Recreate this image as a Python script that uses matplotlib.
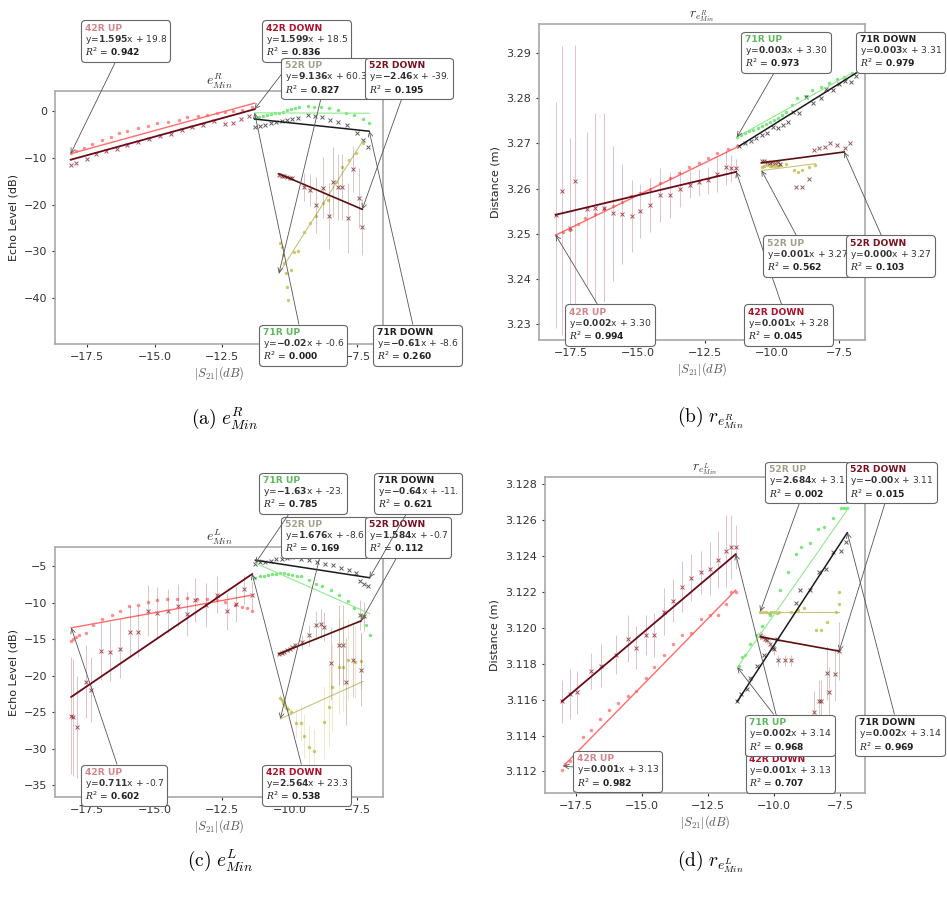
import numpy as np
import matplotlib.pyplot as plt
from matplotlib.offsetbox import TextArea, VPacker, AnnotationBbox

plt.rcParams['mathtext.fontset'] = 'custom'
plt.rcParams['mathtext.rm'] = 'DejaVu Sans'
plt.rcParams['mathtext.bf'] = 'DejaVu Sans:bold'
plt.rcParams['mathtext.it'] = 'DejaVu Serif:italic'

SERIES = ['42R UP', '42R DOWN', '52R UP', '52R DOWN', '71R UP', '71R DOWN']
XTICKS = [-17.5, -15.0, -12.5, -10.0, -7.5]

# ---------------- (a) e^R_Min ----------------
a42u_x = [-18.1, -17.9, -17.6, -17.3, -16.95, -16.6, -16.3, -16.0, -15.6, -15.25, -14.9,
          -14.5, -14.1, -13.8, -13.4, -13.05, -12.7, -12.4, -12.1, -11.75, -11.4]
a42u_y = [-9.0, -8.6, -7.8, -7.0, -6.2, -5.5, -4.7, -4.2, -3.6, -3.2, -2.6,
          -2.3, -1.8, -1.3, -1.1, -0.8, -0.4, -0.2, 0.0, 0.2, 0.8]
a42d_x = [-18.1, -17.9, -17.5, -17.15, -16.8, -16.4, -16.0, -15.6, -15.2, -14.8, -14.4,
          -14.0, -13.6, -13.2, -12.8, -12.4, -12.1, -11.8, -11.5]
a42d_y = [-11.6, -11.2, -10.3, -9.2, -8.6, -8.0, -7.2, -6.7, -6.0, -5.4, -4.8,
          -4.1, -3.5, -2.9, -2.2, -2.7, -2.5, -1.6, -1.0]
a52u_x = [-10.37, -10.3, -10.25, -10.2, -10.15, -10.1, -10.05, -9.95, -9.85, -9.7, -9.48,
          -9.26, -9.03, -8.77, -8.58, -8.3, -8.05, -7.8, -7.56, -7.3]
a52u_y = [-28.2, -29.0, -30.8, -32.5, -34.6, -37.6, -40.4, -34.0, -30.1, -30.0, -25.9,
          -24.0, -22.4, -19.7, -19.0, -15.2, -12.0, -10.5, -9.0, -6.8]
a52d_x = [-10.4, -10.3, -10.2, -10.1, -10.0, -9.9, -9.48, -9.26, -9.03, -8.77, -8.55,
          -8.4, -8.22, -8.07, -7.85, -7.66, -7.44, -7.32]
a52d_y = [-13.7, -13.8, -13.9, -14.0, -14.2, -14.4, -16.2, -16.9, -20.0, -16.4, -22.4,
          -15.2, -16.2, -16.2, -22.9, -12.4, -18.6, -24.8]
a52d_e = [0.3, 0.3, 0.3, 0.3, 0.3, 0.3, 3.0, 3.5, 6.0, 6.5, 7.0,
          7.5, 7.0, 7.0, 7.5, 5.0, 6.5, 6.0]
a71u_x = [-11.3, -11.15, -11.0, -10.85, -10.7, -10.55, -10.4, -10.25, -10.1, -9.95, -9.8,
          -9.65, -9.33, -9.1, -8.85, -8.55, -8.22, -7.92, -7.62, -7.29, -7.06]
a71u_y = [-1.5, -1.3, -1.1, -0.9, -0.7, -0.5, -0.3, -0.1, 0.15, 0.35, 0.6,
          0.85, 1.0, 0.85, 0.85, 0.6, 0.2, -0.4, -0.9, -1.7, -2.6]
a71d_x = [-11.3, -11.1, -10.9, -10.7, -10.5, -10.3, -10.1, -9.9, -9.7, -9.33, -9.05,
          -8.8, -8.5, -8.2, -7.9, -7.5, -7.3, -7.1]
a71d_y = [-3.4, -3.1, -2.9, -2.6, -2.4, -2.1, -1.9, -1.6, -1.4, -0.9, -1.1,
          -1.3, -1.9, -2.3, -3.0, -4.7, -6.2, -7.7]
a_fit_x = [[-18.1, -11.3], [-18.1, -11.3], [-10.4, -7.3], [-10.4, -7.32], [-11.3, -7.06], [-11.3, -7.06]]
a_fit_y = [[-9.1, 1.7], [-10.4, 0.4], [-34.7, -6.4], [-13.4, -21.0], [-0.37, -0.46], [-1.7, -4.3]]
a_slope = ['1.595', '1.599', '9.136', '-2.46', '-0.02', '-0.61']
a_icpt = ['19.8', '18.5', '60.3', '-39.', '-0.6', '-8.6']
a_r2 = ['0.942', '0.836', '0.827', '0.195', '0.000', '0.260']

# ---------------- (b) r_{e^R_Min} ----------------
b42u_x = [-18.06, -17.8, -17.52, -17.24, -16.96, -16.6, -16.27, -15.93, -15.59, -15.25, -14.91,
          -14.55, -14.16, -13.82, -13.48, -13.1, -12.73, -12.4, -12.05, -11.65, -11.3]
b42u_y = [3.2497, 3.2503, 3.2508, 3.2521, 3.2534, 3.2544, 3.2554, 3.2562, 3.2571, 3.2583, 3.2591,
          3.2600, 3.2612, 3.2624, 3.2635, 3.2647, 3.2657, 3.2667, 3.2678, 3.2687, 3.2694]
b42d_x = [-18.06, -17.82, -17.54, -17.33, -16.91, -16.58, -16.27, -15.94, -15.59, -15.22, -14.91,
          -14.54, -14.16, -13.79, -13.42, -13.05, -12.74, -12.4, -12.05, -11.73, -11.54, -11.35]
b42d_y = [3.2542, 3.2595, 3.2512, 3.2617, 3.2555, 3.2558, 3.2558, 3.2545, 3.2544, 3.2540, 3.2550,
          3.2564, 3.2586, 3.2586, 3.2600, 3.2609, 3.2614, 3.2618, 3.2632, 3.2647, 3.2645, 3.2646]
b42d_e = [0.025, 0.032, 0.020, 0.030, 0.017, 0.021, 0.021, 0.015, 0.011, 0.008, 0.006,
          0.006, 0.006, 0.005, 0.004, 0.003, 0.003, 0.003, 0.004, 0.004, 0.003, 0.002]
b52u_x = [-10.4, -10.3, -10.2, -10.1, -10.0, -9.9, -9.8, -9.7, -9.5, -9.2, -9.05, -8.9, -8.65, -8.4]
b52u_y = [3.2648, 3.2650, 3.2652, 3.2650, 3.2649, 3.2651, 3.2650, 3.2652, 3.2654, 3.2641, 3.2637,
          3.2641, 3.2648, 3.2652]
b52d_x = [-10.4, -10.3, -10.2, -10.1, -10.0, -9.9, -9.8, -9.7, -9.1, -8.9, -8.65, -8.45, -8.25,
          -8.05, -7.85, -7.6, -7.3, -7.1]
b52d_y = [3.2662, 3.2660, 3.2658, 3.2656, 3.2658, 3.2656, 3.2658, 3.2655, 3.2604, 3.2604, 3.2621,
          3.2685, 3.2690, 3.2692, 3.2701, 3.2696, 3.2690, 3.2700]
b71u_x = [-11.31, -11.15, -11.0, -10.85, -10.7, -10.55, -10.4, -10.25, -10.1, -9.95, -9.8,
          -9.65, -9.48, -9.26, -9.07, -8.74, -8.51, -8.17, -7.88, -7.58, -7.32, -7.02]
b71u_y = [3.2714, 3.2719, 3.2722, 3.2727, 3.2730, 3.2735, 3.2739, 3.2743, 3.2748, 3.2752, 3.2757,
          3.2762, 3.2770, 3.2785, 3.2800, 3.2804, 3.2818, 3.2825, 3.2834, 3.2842, 3.2847, 3.2856]
b71d_x = [-11.23, -11.0, -10.8, -10.6, -10.4, -10.2, -9.99, -9.8, -9.6, -9.4, -9.24, -9.0, -8.74,
          -8.5, -8.2, -8.0, -7.75, -7.5, -7.3, -7.06, -6.9]
b71d_y = [3.2694, 3.2700, 3.2706, 3.2712, 3.2718, 3.2723, 3.2737, 3.2733, 3.2740, 3.2748, 3.2770,
          3.2768, 3.2803, 3.2790, 3.2800, 3.2821, 3.2818, 3.2832, 3.2838, 3.2836, 3.2850]
b_fit_x = [[-18.06, -11.23], [-18.06, -11.34], [-10.4, -8.4], [-10.4, -7.32], [-11.31, -7.02], [-11.23, -6.87]]
b_fit_y = [[3.2497, 3.2694], [3.2542, 3.2637], [3.2640, 3.2655], [3.2657, 3.2681], [3.2714, 3.2856], [3.2694, 3.2856]]
b_slope = ['0.002', '0.001', '0.001', '0.000', '0.003', '0.003']
b_icpt = ['3.30', '3.28', '3.27', '3.27', '3.30', '3.31']
b_r2 = ['0.994', '0.045', '0.562', '0.103', '0.973', '0.979']

# ---------------- (c) e^L_Min ----------------
c42u_x = [-18.1, -18.0, -17.9, -17.8, -17.52, -17.27, -16.96, -16.59, -16.28, -15.95, -15.6,
          -15.23, -14.92, -14.55, -14.18, -13.8, -13.43, -13.06, -12.69, -12.38, -12.01, -11.76,
          -11.57, -11.39]
c42u_y = [-15.3, -15.0, -14.7, -14.4, -14.1, -13.1, -12.3, -11.7, -11.1, -10.5, -10.3,
          -9.9, -9.7, -9.45, -9.45, -9.35, -9.45, -9.5, -9.7, -9.9, -10.3, -10.6,
          -10.8, -11.2]
c42d_x = [-18.1, -18.0, -17.85, -17.52, -17.35, -16.97, -16.66, -16.28, -15.91, -15.6, -15.23,
          -14.92, -14.49, -14.12, -13.81, -13.5, -13.1, -12.69, -12.32, -12.0, -11.7, -11.4]
c42d_y = [-25.5, -25.7, -27.0, -20.8, -21.9, -16.6, -16.7, -16.3, -14.0, -14.0, -11.1,
          -11.4, -11.1, -10.4, -11.6, -9.6, -10.3, -8.9, -11.2, -10.2, -8.2, -9.0]
c42d_e = [8.0, 8.0, 7.0, 5.0, 4.5, 4.0, 4.0, 4.0, 3.5, 3.5, 3.5,
          3.5, 3.0, 3.0, 3.0, 3.0, 3.0, 2.5, 2.5, 2.5, 2.0, 2.0]
c52u_x = [-10.35, -10.3, -10.25, -10.2, -10.15, -10.05, -9.95, -9.78, -9.6, -9.47, -9.28,
          -9.1, -8.72, -8.54, -8.44, -8.19, -8.04, -7.86, -7.6, -7.36]
c52u_y = [-23.0, -23.3, -23.7, -24.0, -24.4, -24.6, -24.9, -26.5, -26.5, -28.3, -29.7,
          -30.3, -26.4, -24.3, -21.5, -18.8, -18.8, -17.8, -18.1, -18.0]
c52u_e = [0.3, 0.3, 0.3, 0.3, 0.3, 0.5, 0.5, 2.0, 2.5, 3.0, 3.0,
          3.0, 5.0, 5.5, 6.0, 6.5, 6.0, 5.5, 5.0, 4.0]
c52d_x = [-10.4, -10.3, -10.2, -10.1, -10.0, -9.9, -9.8, -9.53, -9.28, -9.03, -8.85,
          -8.72, -8.48, -8.17, -8.04, -7.92, -7.67, -7.42, -7.36, -7.24]
c52d_y = [-17.0, -16.9, -16.7, -16.5, -16.3, -16.1, -15.8, -15.4, -14.5, -13.1, -12.9,
          -13.3, -18.3, -15.8, -15.8, -20.8, -17.9, -11.7, -19.2, -11.9]
c52d_e = [0.2, 0.2, 0.2, 0.2, 0.2, 0.2, 0.3, 1.0, 1.5, 2.0, 2.0,
          2.0, 5.0, 5.5, 5.5, 6.0, 5.0, 2.0, 5.0, 2.0]
c71u_x = [-11.27, -11.1, -10.95, -10.8, -10.65, -10.5, -10.35, -10.2, -10.05, -9.9, -9.75,
          -9.6, -9.28, -9.03, -8.79, -8.48, -8.17, -7.86, -7.61, -7.36, -7.18, -7.05]
c71u_y = [-6.6, -6.4, -6.3, -6.2, -6.1, -6.1, -6.0, -6.0, -6.1, -6.2, -6.3,
          -6.4, -6.9, -7.5, -7.8, -8.3, -9.0, -9.8, -10.8, -11.7, -13.1, -14.4]
c71d_x = [-11.27, -11.1, -10.9, -10.7, -10.5, -10.3, -10.1, -9.9, -9.6, -9.3, -9.0,
          -8.7, -8.4, -8.1, -7.8, -7.55, -7.4, -7.25, -7.1]
c71d_y = [-4.7, -4.5, -4.4, -4.3, -4.1, -4.0, -3.9, -3.8, -4.0, -4.2, -4.4,
          -4.7, -4.9, -5.3, -5.6, -6.0, -7.0, -7.4, -7.7]
c_fit_x = [[-18.08, -11.39], [-18.08, -11.39], [-10.35, -7.3], [-10.4, -7.36], [-11.27, -7.05], [-11.27, -7.05]]
c_fit_y = [[-13.45, -8.97], [-22.9, -6.1], [-25.9, -20.8], [-17.0, -12.5], [-4.6, -11.5], [-4.2, -6.6]]
c_slope = ['0.711', '2.564', '1.676', '1.584', '-1.63', '-0.64']
c_icpt = ['-0.7', '23.3', '-8.6', '-0.7', '-23.', '-11.']
c_r2 = ['0.602', '0.538', '0.169', '0.112', '0.785', '0.621']

# ---------------- (d) r_{e^L_Min} ----------------
d42u_x = [-18.02, -17.92, -17.73, -17.23, -16.92, -16.59, -16.24, -15.93, -15.55, -15.22, -14.87,
          -14.56, -14.18, -13.81, -13.5, -13.13, -12.75, -12.44, -12.13, -11.82, -11.63, -11.45]
d42u_y = [3.1121, 3.1124, 3.1126, 3.1139, 3.1143, 3.1149, 3.1154, 3.1158, 3.1162, 3.1165, 3.1172,
          3.1178, 3.1185, 3.1191, 3.1196, 3.1197, 3.1205, 3.1207, 3.1207, 3.1213, 3.1220, 3.1220]
d42d_x = [-18.04, -17.73, -17.48, -16.92, -16.55, -15.99, -15.55, -15.24, -14.87, -14.56, -14.18,
          -13.81, -13.5, -13.13, -12.75, -12.44, -12.13, -11.82, -11.63, -11.45]
d42d_y = [3.1159, 3.1163, 3.1164, 3.1176, 3.1179, 3.1185, 3.1194, 3.1189, 3.1196, 3.1196, 3.1209,
          3.1215, 3.1223, 3.1228, 3.1231, 3.1233, 3.1238, 3.1243, 3.1245, 3.1245]
d42d_e = [0.0012, 0.0014, 0.0012, 0.0010, 0.0012, 0.0011, 0.0013, 0.0012, 0.0011, 0.0012, 0.0013,
          0.0012, 0.0014, 0.0013, 0.0012, 0.0015, 0.0016, 0.0020, 0.0018, 0.0012]
d52u_x = [-10.52, -10.4, -10.3, -10.2, -10.1, -10.0, -9.9, -9.8, -9.35, -9.1, -8.85,
          -8.4, -8.2, -8.0, -7.65, -7.53, -7.53]
d52u_y = [3.1209, 3.1209, 3.1209, 3.1208, 3.1209, 3.1209, 3.1208, 3.1209, 3.1209, 3.1210, 3.1211,
          3.1199, 3.1199, 3.1203, 3.1209, 3.1220, 3.1213]
d52d_x = [-10.52, -10.45, -10.35, -10.25, -10.15, -10.0, -9.85, -9.6, -9.35, -8.5, -8.3,
          -8.2, -8.0, -7.9, -7.7, -7.55]
d52d_y = [3.1196, 3.1195, 3.1194, 3.1193, 3.1191, 3.1188, 3.1182, 3.1182, 3.1182, 3.1153, 3.1159,
          3.1159, 3.1175, 3.1164, 3.1174, 3.1187]
d52d_e = [0.0002, 0.0002, 0.0002, 0.0002, 0.0002, 0.0003, 0.0003, 0.0003, 0.0003, 0.0012, 0.0012,
          0.0012, 0.0015, 0.0014, 0.0015, 0.0016]
d71u_x = [-11.32, -11.2, -11.08, -10.89, -10.7, -10.45, -10.14, -9.77, -9.46, -9.15, -8.96,
          -8.65, -8.34, -8.09, -7.78, -7.47, -7.34, -7.22]
d71u_y = [3.1179, 3.1184, 3.1185, 3.1191, 3.1196, 3.1201, 3.1207, 3.1221, 3.1231, 3.1241, 3.1245,
          3.1247, 3.1255, 3.1256, 3.1261, 3.1267, 3.1267, 3.1267]
d71d_x = [-11.39, -11.26, -11.01, -10.89, -10.64, -10.39, -10.02, -9.89, -9.15, -9.02, -8.65,
          -8.28, -8.03, -7.78, -7.47, -7.28]
d71d_y = [3.1159, 3.1163, 3.1166, 3.1172, 3.1179, 3.1185, 3.1189, 3.1194, 3.1214, 3.1221, 3.1221,
          3.1231, 3.1233, 3.1242, 3.1243, 3.1248]
d_fit_x = [[-17.98, -11.45], [-18.04, -11.45], [-10.52, -7.53], [-10.52, -7.53], [-11.39, -7.16], [-11.39, -7.22]]
d_fit_y = [[3.1123, 3.1221], [3.1159, 3.1241], [3.1209, 3.1209], [3.1195, 3.1187], [3.1178, 3.1267], [3.1159, 3.1253]]
d_slope = ['0.001', '0.001', '2.684', '-0.00', '0.002', '0.002']
d_icpt = ['3.13', '3.13', '3.1', '3.11', '3.14', '3.14']
d_r2 = ['0.982', '0.707', '0.002', '0.015', '0.968', '0.969']

# styles
COLORS = ['#ff5a5a', '#8b0a1e', '#b8b030', '#6e1a14', '#3fe03f', '#1a1a1a']
FIT_COLORS = ['#ff6b6b', '#6b0a18', '#c8c27a', '#5a1010', '#8fea8f', '#1a1a1a']
FIT_LW = [1.0, 1.3, 0.8, 1.2, 0.8, 1.1]
LABEL_COLORS = ['#d4848c', '#b0102a', '#a0a08a', '#7a1020', '#5cb85c', '#202020']
MARKERS = ['o', 'x', 'o', 'x', 'o', 'x']
BOX_FS = 6.6


def draw_panel(fig, rect, xs, ys, errs, fit_x, fit_y, slopes, icpts, r2s, boxes,
               ylim, yticks, ylabel, title):
    ax = fig.add_axes(rect)
    for i in range(6):
        if errs[i] is not None:
            ax.errorbar(xs[i], ys[i], yerr=errs[i], fmt='none', ecolor=COLORS[i],
                        elinewidth=0.7, alpha=0.25)
        if MARKERS[i] == 'o':
            ax.scatter(xs[i], ys[i], marker='o', s=6, color=COLORS[i], alpha=0.7, linewidths=0)
        else:
            ax.scatter(xs[i], ys[i], marker='x', s=8, color=COLORS[i], alpha=0.7, linewidths=0.7)
        ax.plot(fit_x[i], fit_y[i], color=FIT_COLORS[i], lw=FIT_LW[i])

    ax.set_xlim(-18.68, -6.55)
    ax.set_ylim(*ylim)
    ax.set_xticks(XTICKS)
    ax.set_yticks(yticks)
    ax.ticklabel_format(axis='y', useOffset=False)
    ax.tick_params(labelsize=8, colors='#333333', length=2)
    for s in ax.spines.values():
        s.set_color('#a8a8a8')
        s.set_linewidth(1.2)
    ax.set_xlabel(r'$|S_{21}|(dB)$', fontsize=9, color='#555555', math_fontfamily='cm', labelpad=2)
    ax.set_ylabel(ylabel, fontsize=8, color='#222222')
    ax.set_title(title, fontsize=10, math_fontfamily='cm', pad=1, color='#333333')

    # regression boxes
    for i, name in enumerate(SERIES):
        t1 = TextArea(name, textprops=dict(color=LABEL_COLORS[i], fontsize=BOX_FS, fontweight='bold'))
        t2 = TextArea(r'y=$\mathbf{%s}$x + %s' % (slopes[i], icpts[i]),
                      textprops=dict(color='#333333', fontsize=BOX_FS))
        t3 = TextArea(r'$R^2$ = $\mathbf{%s}$' % r2s[i], textprops=dict(color='#222222', fontsize=BOX_FS))
        pack = VPacker(children=[t1, t2, t3], align='left', pad=0, sep=0)
        if 'UP' in name:
            target = (fit_x[i][0], fit_y[i][0])
        else:
            target = (fit_x[i][1], fit_y[i][1])
        ab = AnnotationBbox(pack, target, xybox=boxes[i], xycoords=ax.transData,
                            boxcoords=ax.transAxes, box_alignment=(0, 1),
                            bboxprops=dict(boxstyle='round,pad=0.25', fc='white', ec='#666666', lw=0.8),
                            arrowprops=dict(arrowstyle='->', color='#555555', lw=0.6,
                                            mutation_scale=6, shrinkA=0, shrinkB=0),
                            annotation_clip=False, zorder=5 + i)
        fig.add_artist(ab)
    return ax


fig = plt.figure(figsize=(9.47, 9.0), dpi=100)

draw_panel(fig, [0.0581, 0.6178, 0.3464, 0.2811],
           [a42u_x, a42d_x, a52u_x, a52d_x, a71u_x, a71d_x],
           [a42u_y, a42d_y, a52u_y, a52d_y, a71u_y, a71d_y],
           [None, None, None, a52d_e, None, None],
           a_fit_x, a_fit_y, a_slope, a_icpt, a_r2,
           [(0.090, 1.265), (0.642, 1.265), (0.700, 1.118), (0.956, 1.118), (0.633, 0.063), (0.981, 0.063)],
           (-49.8, 4.3), [-40, -30, -20, -10, 0], 'Echo Level (dB)', r'$e^R_{Min}$')

draw_panel(fig, [0.5692, 0.6222, 0.3442, 0.3511],
           [b42u_x, b42d_x, b52u_x, b52d_x, b71u_x, b71d_x],
           [b42u_y, b42d_y, b52u_y, b52d_y, b71u_y, b71d_y],
           [None, b42d_e, None, None, None, None],
           b_fit_x, b_fit_y, b_slope, b_icpt, b_r2,
           [(0.091, 0.102), (0.640, 0.102), (0.698, 0.320), (0.953, 0.320), (0.631, 0.965), (0.984, 0.965)],
           (3.2265, 3.2964), [3.23, 3.24, 3.25, 3.26, 3.27, 3.28, 3.29], 'Distance (m)',
           r'$r_{e^R_{Min}}$')

draw_panel(fig, [0.0581, 0.1144, 0.3464, 0.2778],
           [c42u_x, c42d_x, c52u_x, c52d_x, c71u_x, c71d_x],
           [c42u_y, c42d_y, c52u_y, c52d_y, c71u_y, c71d_y],
           [None, c42d_e, c52u_e, c52d_e, None, None],
           c_fit_x, c_fit_y, c_slope, c_icpt, c_r2,
           [(0.090, 0.116), (0.642, 0.116), (0.700, 1.108), (0.956, 1.108), (0.633, 1.284), (0.984, 1.284)],
           (-36.6, -2.4), [-35, -30, -25, -20, -15, -10, -5], 'Echo Level (dB)', r'$e^L_{Min}$')

draw_panel(fig, [0.5755, 0.1189, 0.3379, 0.3511],
           [d42u_x, d42d_x, d52u_x, d52d_x, d71u_x, d71d_x],
           [d42u_y, d42d_y, d52u_y, d52d_y, d71u_y, d71d_y],
           [None, d42d_e, None, d52d_e, None, None],
           d_fit_x, d_fit_y, d_slope, d_icpt, d_r2,
           [(0.099, 0.123), (0.639, 0.120), (0.699, 1.037), (0.952, 1.037), (0.636, 0.237), (0.980, 0.237)],
           (3.1108, 3.1284), [3.112, 3.114, 3.116, 3.118, 3.120, 3.122, 3.124, 3.126, 3.128],
           'Distance (m)', r'$r_{e^L_{Min}}$')

# sub-captions
fig.text(225 / 947, 1 - 418 / 900, r'$\mathrm{(a)}\ e^R_{Min}$', fontsize=14, math_fontfamily='cm',
         ha='center', va='center')
fig.text(710 / 947, 1 - 418 / 900, r'$\mathrm{(b)}\ r_{e^R_{Min}}$', fontsize=14, math_fontfamily='cm',
         ha='center', va='center')
fig.text(220 / 947, 1 - 860 / 900, r'$\mathrm{(c)}\ e^L_{Min}$', fontsize=14, math_fontfamily='cm',
         ha='center', va='center')
fig.text(710 / 947, 1 - 862 / 900, r'$\mathrm{(d)}\ r_{e^L_{Min}}$', fontsize=14, math_fontfamily='cm',
         ha='center', va='center')

fig.savefig('out.png', dpi=100)
